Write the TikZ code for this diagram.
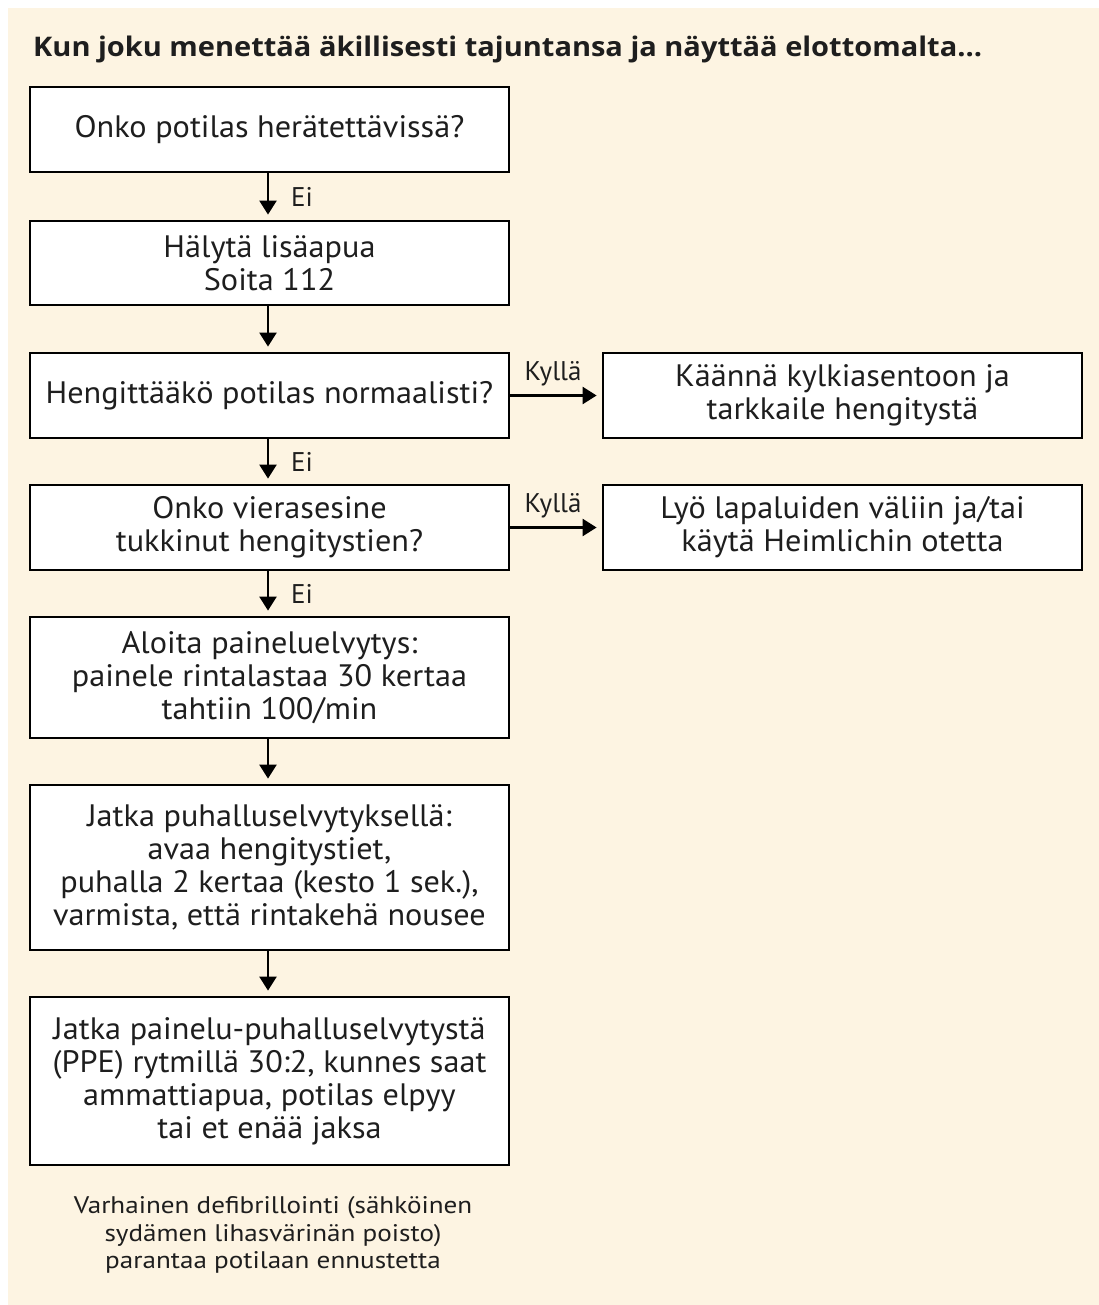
\documentclass[tikz,border=0pt]{standalone}
\usepackage{fontspec}
\setmainfont{PT Sans}
\newfontfamily\boxfont{PT Sans}[FakeStretch=1.04]
\newfontfamily\notefont{PT Sans}[FakeStretch=1.13]
\newfontfamily\titlefont{Open Sans}
\usetikzlibrary{arrows.meta}
\definecolor{cream}{HTML}{FDF4E2}
\definecolor{ink}{HTML}{1E1E1E}
\begin{document}
\begin{tikzpicture}[x=1pt,y=-1pt,
  box/.style={draw=black, fill=white, line width=2.8pt, minimum width=479pt, inner sep=0pt, align=center, font=\boxfont\fontsize{31}{33}\selectfont, text=ink},
  arr/.style={line width=2.4pt, -{Triangle[width=17pt,length=14pt]}, shorten >=5pt},
  lbl/.style={font=\fontsize{27}{30}\selectfont, text=ink, inner sep=0pt}
]
\useasboundingbox (0,0) rectangle (1099,1305);
\fill[white] (0,0) rectangle (1099,1305);
\fill[cream] (8,8) rectangle (1099,1305);

\node[anchor=base west, inner sep=0pt, text=ink] (title) at (33,57) {\resizebox{949pt}{\height}{\titlefont\bfseries\fontsize{27}{30}\selectfont Kun joku menettää äkillisesti tajuntansa ja näyttää elottomalta...}};

\node[box, minimum height=85pt] (b1) at (269.5,129.5) {Onko potilas herätettävissä?};
\node[box, minimum height=84pt] (b2) at (269.5,263) {Hälytä lisäapua\\Soita 112};
\node[box, minimum height=85pt] (b3) at (269.5,395.5) {Hengittääkö potilas normaalisti?};
\node[box, minimum height=85pt] (b4) at (269.5,527.5) {Onko vierasesine\\tukkinut hengitystien?};
\node[box, minimum height=121pt] (b5) at (269.5,677.5) {Aloita paineluelvytys:\\painele rintalastaa 30 kertaa\\tahtiin 100/min};
\node[box, minimum height=165pt] (b6) at (269.5,867.5) {Jatka puhalluselvytyksellä:\\avaa hengitystiet,\\puhalla 2 kertaa (kesto 1 sek.),\\varmista, että rintakehä nousee};
\node[box, minimum height=168pt] (b7) at (269.5,1081) {Jatka painelu-puhalluselvytystä\\(PPE) rytmillä 30:2, kunnes saat\\ammattiapua, potilas elpyy\\tai et enää jaksa};

\node[box, minimum height=85pt] (r1) at (842.5,395.5) {Käännä kylkiasentoon ja\\tarkkaile hengitystä};
\node[box, minimum height=85pt] (r2) at (842.5,527.5) {Lyö lapaluiden väliin ja/tai\\käytä Heimlichin otetta};

\draw[arr] ([xshift=-1.5pt]b1.south) -- ([xshift=-1.5pt]b2.north) node[lbl, midway, anchor=west, xshift=22pt] {Ei};
\draw[arr] ([xshift=-1.5pt]b2.south) -- ([xshift=-1.5pt]b3.north);
\draw[arr] ([xshift=-1.5pt]b3.south) -- ([xshift=-1.5pt]b4.north) node[lbl, midway, anchor=west, xshift=22pt] {Ei};
\draw[arr] ([xshift=-1.5pt]b4.south) -- ([xshift=-1.5pt]b5.north) node[lbl, midway, anchor=west, xshift=22pt] {Ei};
\draw[arr] ([xshift=-1.5pt]b5.south) -- ([xshift=-1.5pt]b6.north);
\draw[arr] ([xshift=-1.5pt]b6.south) -- ([xshift=-1.5pt]b7.north);

\draw[arr] (b3.east) -- (r1.west) node[lbl, midway, above=8pt, xshift=-3pt] {Kyllä};
\draw[arr] (b4.east) -- (r2.west) node[lbl, midway, above=8pt, xshift=-3pt] {Kyllä};

\node[font=\notefont\fontsize{24}{27.5}\selectfont, align=center, text=ink] (note) at (273,1235) {Varhainen defibrillointi (sähköinen\\sydämen lihasvärinän poisto)\\parantaa potilaan ennustetta};
\end{tikzpicture}
\end{document}
